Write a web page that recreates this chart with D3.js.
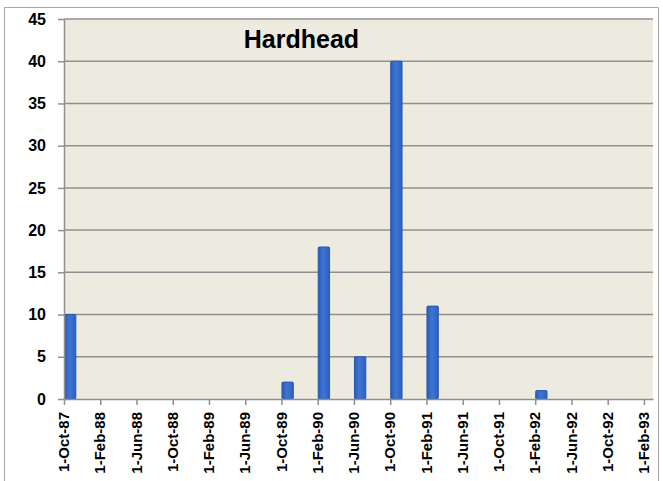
<!DOCTYPE html>
<html>
<head>
<meta charset="utf-8">
<script src="https://cdn.jsdelivr.net/npm/d3@7"></script>
<style>
  body { margin: 0; background: #fff; }
  svg { display: block; }
  text { font-family: "Liberation Sans", Arial, sans-serif; font-weight: bold; fill: #000; }
</style>
</head>
<body>
<div id="chart"></div>
<script>
// data
var barMonths = ["1987-10", "1989-10", "1990-02", "1990-06", "1990-10", "1991-02", "1992-02"];
var barValues = [10, 2, 18, 5, 40, 11, 1];

var tickMonths = ["1987-10", "1988-02", "1988-06", "1988-10", "1989-02", "1989-06", "1989-10",
    "1990-02", "1990-06", "1990-10", "1991-02", "1991-06", "1991-10", "1992-02", "1992-06",
    "1992-10", "1993-02"];
var tickLabels = ["1-Oct-87", "1-Feb-88", "1-Jun-88", "1-Oct-88", "1-Feb-89", "1-Jun-89", "1-Oct-89",
    "1-Feb-90", "1-Jun-90", "1-Oct-90", "1-Feb-91", "1-Jun-91", "1-Oct-91", "1-Feb-92", "1-Jun-92",
    "1-Oct-92", "1-Feb-93"];
var yTicks = [0, 5, 10, 15, 20, 25, 30, 35, 40, 45];
var title = "Hardhead";

var svgWidth = 663;
var svgHeight = 481;

var margin = { top: 19, right: 10, bottom: 82, left: 64 };
var innerWidth = svgWidth - margin.left - margin.right;
var innerHeight = svgHeight - margin.top - margin.bottom;

// month counter starting at Oct 1987 (date axis with monthly base unit)
function monthIndex(s) {
    var p = s.split("-");
    return (+p[0] - 1987) * 12 + (+p[1] - 10);
}

var svg = d3.select("#chart")
    .append("svg")
    .attr("width", svgWidth)
    .attr("height", svgHeight);

// chart frame (bottom edge runs off the picture)
svg.append("path")
    .attr("d", `M4.5,${svgHeight}V7.5H658.5V${svgHeight}`)
    .attr("fill", "none")
    .attr("stroke", "#a6a6a6");

var defs = svg.append("defs");
var grad = defs.append("linearGradient").attr("id", "barGrad")
    .attr("x1", "0%").attr("x2", "100%").attr("y1", "0%").attr("y2", "0%");
grad.append("stop").attr("offset", "0%").attr("stop-color", "#2b5cb6");
grad.append("stop").attr("offset", "45%").attr("stop-color", "#3d76d8");
grad.append("stop").attr("offset", "100%").attr("stop-color", "#2d60bd");

var g = svg.append("g")
    .attr("transform", `translate(${margin.left}, ${margin.top})`);

var xScale = d3.scaleLinear()
    .domain([0, 65])
    .range([0, innerWidth]);

var yScale = d3.scaleLinear()
    .domain([0, 45])
    .range([innerHeight, 0]);

// plot area
g.append("rect")
    .attr("width", innerWidth)
    .attr("height", innerHeight)
    .attr("fill", "#edeadf");

// gridlines
g.selectAll(".grid").data(yTicks.slice(1))
    .enter().append("line")
    .attr("class", "grid")
    .attr("x1", 0).attr("x2", innerWidth)
    .attr("y1", d => yScale(d)).attr("y2", d => yScale(d))
    .attr("stroke", "#8f8f8f")
    .attr("stroke-width", 1.5);

// title
g.append("text")
    .attr("x", xScale(26.2))
    .attr("y", 29)
    .attr("text-anchor", "middle")
    .style("font-size", "25px")
    .text(title);

// bars
var bars = barMonths.map((m, i) => ({ m: monthIndex(m), v: barValues[i] }));
g.selectAll(".bar").data(bars)
    .enter().append("rect")
    .attr("class", "bar")
    .attr("x", d => xScale(d.m) + 0.5)
    .attr("y", d => yScale(d.v))
    .attr("width", xScale(1.25) - xScale(0))
    .attr("height", d => innerHeight - yScale(d.v))
    .attr("rx", 1)
    .attr("fill", "url(#barGrad)")
    .attr("stroke", "#2a58ad")
    .attr("stroke-width", 1);

// y axis
var yAxis = d3.axisLeft(yScale)
    .tickValues(yTicks)
    .tickSize(6)
    .tickSizeOuter(0)
    .tickPadding(12);
var yg = g.append("g").call(yAxis);
yg.selectAll("text").style("font-size", "16px").style("font-family", null);
yg.selectAll("line, path").attr("stroke", "#8f8f8f").attr("stroke-width", 1.5);

// x axis: ticks from d3, labels drawn rotated in their own groups
var xAxis = d3.axisBottom(xScale)
    .tickValues(tickMonths.map(monthIndex))
    .tickFormat("")
    .tickSize(6)
    .tickSizeOuter(0);
var xg = g.append("g")
    .attr("transform", `translate(0, ${innerHeight})`)
    .call(xAxis);
xg.selectAll("line, path").attr("stroke", "#8f8f8f").attr("stroke-width", 1.5);

xg.selectAll(".xlabel").data(tickMonths)
    .enter().append("g")
    .attr("class", "xlabel")
    .attr("transform", d => `translate(${xScale(monthIndex(d))}, 13) rotate(-90)`)
    .append("text")
    .attr("text-anchor", "end")
    .attr("dy", "0.35em")
    .style("font-size", "15px")
    .text((d, i) => tickLabels[i]);
</script>
</body>
</html>
